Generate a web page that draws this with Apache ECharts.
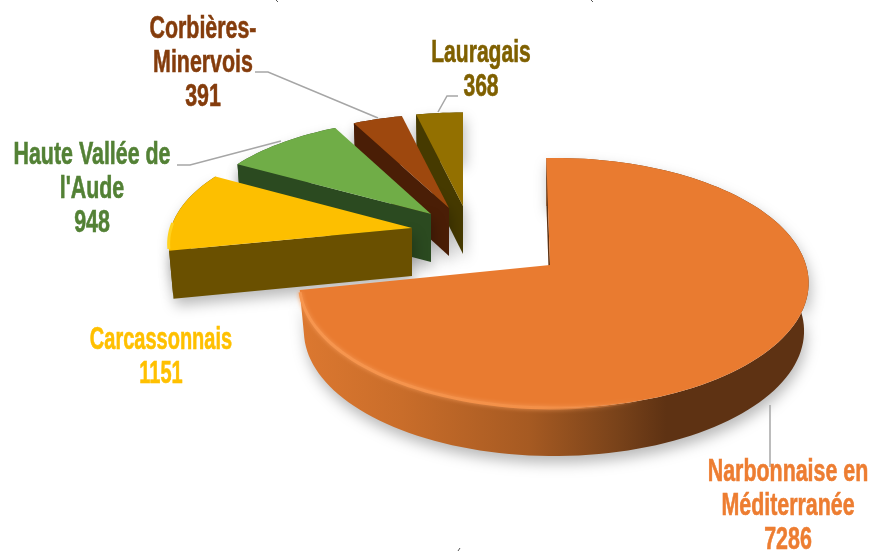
<!DOCTYPE html>
<html><head><meta charset="utf-8">
<style>html,body{margin:0;padding:0;background:#fff}#c{width:870px;height:552px}</style>
<script src="https://cdn.jsdelivr.net/npm/echarts@6/dist/echarts.min.js"></script>
</head><body><div id="c"></div>
<script>
// Draw order is back to front; slices run clockwise from the top, ending with Narbonnaise first.
const categories = ["Lauragais", "Corbières-\nMinervois", "Haute Vallée de\nl'Aude", "Carcassonnais", "Narbonnaise en\nMéditerranée"];
const values = [368, 391, 948, 1151, 7286];
const topColors = ["#937000", "#9e480e", "#70ad47", "#fdbf00", "#e97b30"];
const wallColors = ["#463a00", "#4a1e06", "#2b4a20", "#6a5000", "#5e3213"];
const labelColors = ["#7f6000", "#843c0c", "#538135", "#ffc000", "#ed7d31"];
const apexes = [[463,206],[449,208],[431,214],[412,228],[554,265]];
const notches = [null,null,null,null,[550,265]];
const startOverlap = [0,0,0,0,2];
const labelPos = [[481,70],[203,63],[92,189],[161,357],[788,506]];
const labelScale = [.68,.69,.69,.645,.69];
const leaders = [
  [[458,96],[447,96],[438,112]],
  [[255,72],[268,72],[378,118]],
  [[177,165],[190,165],[281,141]],
  [],
  [[770,405],[770,467]]
];
const total = values.reduce((a,b)=>a+b,0);
const RX=252, DIST=6.95, SPAN=851, HORIZON=-586, DEPTH=48, TAPER=.982;
function sliceGeom(i){
  let end=360; for(let k=0;k<i;k++) end-=values[k]/total*360;
  return {start:end-values[i]/total*360-startOverlap[i],end};
}
function project(i,deg){
  const a=apexes[i], sa=(a[1]-HORIZON)/SPAN, va=DIST/sa-DIST;
  const t=deg*Math.PI/180, s=DIST/(DIST+va+Math.cos(t));
  return [a[0]+RX*Math.sin(t)*s, HORIZON+SPAN*s];
}
function arc(i,a,b){const n=Math.max(4,Math.ceil(Math.abs(b-a)/2)),p=[];
  for(let k=0;k<=n;k++)p.push(project(i,a+(b-a)*k/n));return p;}
function renderItem(params){
  const i=params.dataIndex,g=sliceGeom(i),ax=apexes[i],ap=notches[i]||ax,edge=arc(i,g.start,g.end),children=[];
  const down=p=>[ax[0]+(p[0]-ax[0])*TAPER,p[1]+DEPTH];
  const isMain=i===4;
  const wallFill=isMain?{type:'linear',x:0,y:0,x2:1,y2:0,colorStops:[
      {offset:0,color:'#dc7830'},{offset:.2,color:'#c96d2a'},{offset:.45,color:'#a65a22'},
      {offset:.62,color:'#7a431a'},{offset:.72,color:'#5e3213'},{offset:1,color:'#5e3213'}]}:wallColors[i];
  const shadow={shadowColor:'rgba(0,0,0,.28)',shadowBlur:14,shadowOffsetX:2,shadowOffsetY:7};
  children.push({type:'polygon',shape:{points:edge.concat(edge.map(down).reverse())},
    style:Object.assign({fill:wallFill},shadow)});
  const p0=edge[0];
  children.push({type:'polygon',shape:{points:[ap,p0,down(p0),[ap[0],ap[1]+DEPTH]]},
    style:Object.assign({fill:isMain?'#5e3213':wallColors[i]},isMain?{}:shadow)});
  children.push({type:'polygon',shape:{points:[ap].concat(edge)},style:{fill:topColors[i]}});
  if(isMain){
    children.push({type:'polyline',shape:{points:arc(i,g.end-1,g.start+165)},
      style:{fill:null,stroke:{type:'linear',x:0,y:0,x2:1,y2:0,colorStops:[
        {offset:0,color:'#f7964f'},{offset:.7,color:'#f39048'},{offset:1,color:'rgba(240,140,70,0)'}]},lineWidth:3,
        shadowColor:'#f59a58',shadowBlur:4}});
  }
  if(i===3){
    children.push({type:'polyline',shape:{points:arc(i,g.start+1,g.start+14)},
      style:{fill:null,stroke:'#ffd21f',lineWidth:3}});
  }
  if(leaders[i].length)children.push({type:'polyline',shape:{points:leaders[i]},
    style:{fill:null,stroke:'#a6a6a6',lineWidth:1.5}});
  const lp=labelPos[i];
  children.push({type:'text',x:lp[0],y:lp[1],scaleX:labelScale[i],style:{text:categories[i]+'\n'+values[i],
    fill:labelColors[i],stroke:labelColors[i],lineWidth:.6,font:'bold 31px "Liberation Sans",sans-serif',
    lineHeight:34,align:'center',verticalAlign:'middle'}});
  return {type:'group',children};
}
const chart=echarts.init(document.getElementById('c'),null,{renderer:'canvas'});
chart.setOption({animation:false,backgroundColor:'#fff',
  graphic:[[276,0,278,2],[591,0,593,2],[458,551,460,548]].map(m=>({type:'line',
    shape:{x1:m[0],y1:m[1],x2:m[2],y2:m[3]},style:{stroke:'#555',lineWidth:1}})),
  series:[{type:'custom',coordinateSystem:'none',renderItem,
    data:categories.map((n,i)=>({name:n,value:values[i]}))}]});
</script></body></html>
